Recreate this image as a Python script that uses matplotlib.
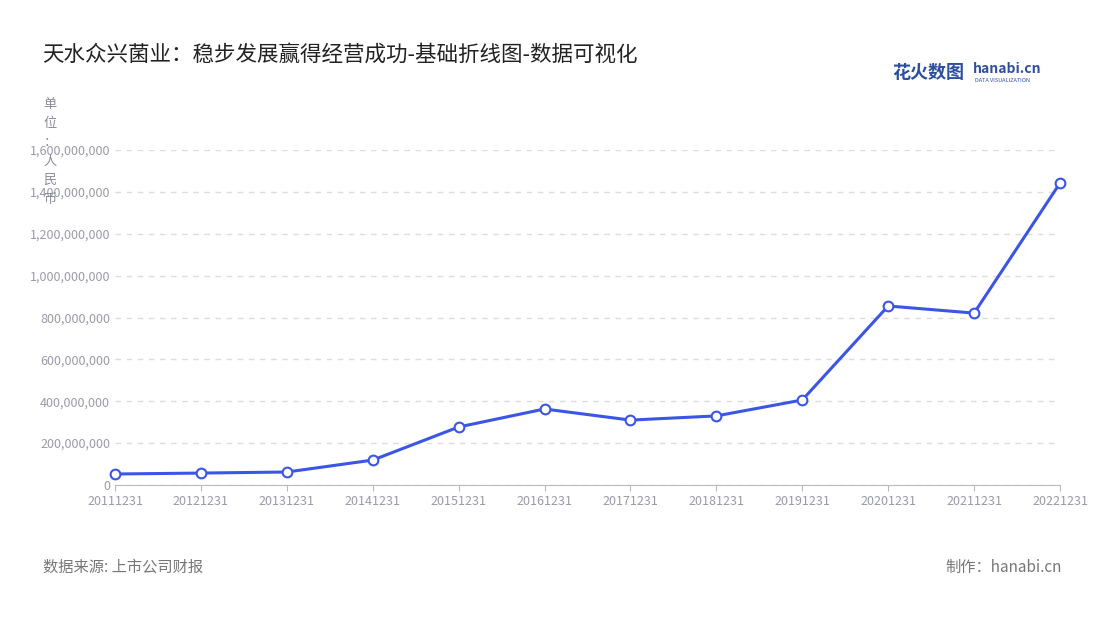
import matplotlib
matplotlib.use("Agg")
import matplotlib.pyplot as plt
from matplotlib.ticker import FuncFormatter

plt.rcParams['font.family'] = ['Noto Sans CJK SC', 'DejaVu Sans']

dates = ['20111231','20121231','20131231','20141231','20151231','20161231',
         '20171231','20181231','20191231','20201231','20211231','20221231']
values = [52.5e6, 57e6, 62e6, 119e6, 277e6, 363e6, 310e6, 330e6, 406e6, 855e6, 821e6, 1442e6]
yticks = [0, 2e8, 4e8, 6e8, 8e8, 1e9, 1.2e9, 1.4e9, 1.6e9]

fig = plt.figure(figsize=(11, 6.2), dpi=100)
ax = fig.add_axes([115/1100, 1-485/620, 945/1100, 335/620])
x = list(range(len(dates)))
ax.plot(x, values, color='#3b55e6', lw=2.2, marker='o', markersize=7,
        markerfacecolor='white', markeredgecolor='#3b55e6', markeredgewidth=1.5, zorder=3, clip_on=False)
ax.set_xlim(0, len(dates)-1)
ax.set_ylim(0, 1.6e9)
ax.set_yticks(yticks)
ax.yaxis.set_major_formatter(FuncFormatter(lambda v, p: f'{int(v):,}'))
ax.set_xticks(x)
ax.set_xticklabels(dates)
ax.tick_params(axis='both', labelsize=9, colors='#9a9aa8', length=0)
ax.tick_params(axis='x', length=4, color='#bbbbbb')
ax.grid(axis='y', ls=(0, (4, 4)), color='#dddddd', lw=1)
for s in ['top', 'right', 'left']:
    ax.spines[s].set_visible(False)
ax.spines['bottom'].set_color('#bbbbbb')

fig.text(42/1100, 1-55/620, '天水众兴菌业：稳步发展赢得经营成功-基础折线图-数据可视化',
         fontsize=15.5, color='#222222', va='center')
fig.text(50/1100, 1-152/620, '单\n位\n：\n人\n民\n币', fontsize=9.5, color='#8a8a99',
         ha='center', va='center', linespacing=1.6)
fig.text(43/1100, 1-567/620, '数据来源: 上市公司财报', fontsize=11, color='#777777', va='center')
fig.text(1062/1100, 1-567/620, '制作：hanabi.cn', fontsize=11, color='#777777', va='center', ha='right')
fig.text(892/1100, 1-72/620, '花火数图', fontsize=13, color='#2d4fa0', va='center', fontweight='bold')
fig.text(973/1100, 1-69/620, 'hanabi.cn', fontsize=10, color='#2d4fa0', va='center', fontweight='bold')
fig.text(975/1100, 1-80/620, 'DATA VISUALIZATION', fontsize=4, color='#2d4fa0', va='center')
fig.savefig('out.png', dpi=100)
